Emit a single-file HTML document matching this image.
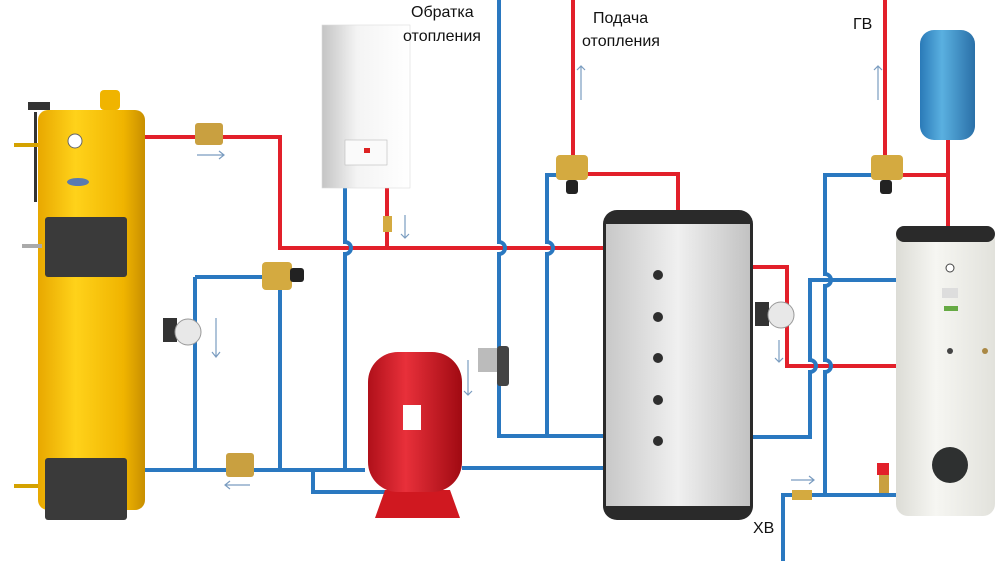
<!DOCTYPE html>
<html><head><meta charset="utf-8"><style>
html,body{margin:0;padding:0;background:#fff;}
svg{display:block;font-family:"Liberation Sans","DejaVu Sans",sans-serif;}
</style></head><body>
<svg width="1000" height="561" viewBox="0 0 1000 561" xmlns="http://www.w3.org/2000/svg">
<defs>
<linearGradient id="yel" x1="0" x2="1"><stop offset="0" stop-color="#e8a800"/><stop offset=".35" stop-color="#ffd21a"/><stop offset=".8" stop-color="#f0b400"/><stop offset="1" stop-color="#c88f00"/></linearGradient>
<linearGradient id="gry" x1="0" x2="1"><stop offset="0" stop-color="#c8c8c8"/><stop offset=".5" stop-color="#f0f0f0"/><stop offset="1" stop-color="#c2c2c2"/></linearGradient>
<linearGradient id="wht" x1="0" x2="1"><stop offset="0" stop-color="#dcdcd6"/><stop offset=".4" stop-color="#f6f6f2"/><stop offset="1" stop-color="#e2e2dc"/></linearGradient>
<linearGradient id="eb" x1="0" x2="1"><stop offset="0" stop-color="#c4c4c4"/><stop offset=".4" stop-color="#f4f4f4"/><stop offset="1" stop-color="#fff"/></linearGradient>
<linearGradient id="red" x1="0" x2="1"><stop offset="0" stop-color="#b0101a"/><stop offset=".4" stop-color="#e8303a"/><stop offset="1" stop-color="#a00a12"/></linearGradient>
<linearGradient id="blu" x1="0" x2="1"><stop offset="0" stop-color="#2a7ab8"/><stop offset=".4" stop-color="#5ab0e0"/><stop offset="1" stop-color="#2a70a8"/></linearGradient>
</defs>
<g fill="none" stroke-width="4">
<g stroke="#e2202a">
<path d="M145 137H280V248H605"/>
<path d="M387 188V248"/>
<path d="M573 0V170M588 174H678V212"/>
<path d="M752 267H787V366H897"/>
<path d="M885 0V165M900 175H948V227M948 140V175"/>
</g>
<g stroke="#2a78c0">
<path d="M145 470H365"/>
<path d="M195 277H265M195 277V470"/>
<path d="M280 288V470"/>
<path d="M313 470V492H390"/>
<path d="M345 188V242a6 6 0 0 1 0 12V470"/>
<path d="M499 0V242a6 6 0 0 1 0 12V436H605"/>
<path d="M462 468H605"/>
<path d="M558 175H547V242a6 6 0 0 1 0 12V436"/>
<path d="M752 437H810V372a6 6 0 0 0 0-12V280H897"/>
<path d="M872 175H825V274a6 6 0 0 1 0 12V360a6 6 0 0 1 0 12V495"/>
<path d="M783 561V495H900"/>
</g>
<g stroke="#7a9cc0" stroke-width="1.2">
<path d="M197 155H224M219 151L224 155L219 159"/>
<path d="M250 485H225M230 481L225 485L230 489"/>
<path d="M216 318V357M212 352L216 357L220 352"/>
<path d="M405 215V238M401 234L405 238L409 234"/>
<path d="M468 360V395M464 391L468 395L472 391"/>
<path d="M581 100V66M577 70L581 66L585 70"/>
<path d="M878 100V66M874 70L878 66L882 70"/>
<path d="M779 340V362M775 358L779 362L783 358"/>
<path d="M791 480H814M809 476L814 480L809 484"/>
</g>
</g>
<rect x="100" y="90" width="20" height="20" rx="4" fill="#f0b400"/>
<rect x="28" y="102" width="22" height="8" fill="#333"/>
<rect x="38" y="110" width="107" height="400" rx="10" fill="url(#yel)"/>
<rect x="34" y="112" width="3" height="90" fill="#333"/>
<circle cx="75" cy="141" r="7" fill="#fff" stroke="#666"/>
<ellipse cx="78" cy="182" rx="11" ry="4" fill="#5a7ab0"/>
<rect x="45" y="217" width="82" height="60" rx="3" fill="#3a3a3a"/>
<rect x="45" y="458" width="82" height="62" rx="3" fill="#3a3a3a"/>
<rect x="14" y="143" width="24" height="4" fill="#d4a200"/>
<rect x="22" y="244" width="20" height="4" fill="#aaa"/>
<rect x="14" y="484" width="24" height="4" fill="#d4a200"/>
<rect x="195" y="123" width="28" height="22" rx="3" fill="#c9a040"/>
<rect x="226" y="453" width="28" height="24" rx="3" fill="#c9a040"/>
<rect x="262" y="262" width="30" height="28" rx="4" fill="#d4aa40"/>
<rect x="290" y="268" width="14" height="14" rx="3" fill="#222"/>
<rect x="556" y="155" width="32" height="25" rx="4" fill="#d4aa40"/>
<rect x="566" y="180" width="12" height="14" rx="3" fill="#222"/>
<rect x="871" y="155" width="32" height="25" rx="4" fill="#d4aa40"/>
<rect x="880" y="180" width="12" height="14" rx="3" fill="#222"/>
<rect x="383" y="216" width="9" height="16" fill="#d4aa40"/>
<rect x="792" y="490" width="20" height="10" fill="#d4aa40"/>
<rect x="877" y="463" width="12" height="12" fill="#e2202a"/>
<rect x="879" y="475" width="10" height="18" fill="#c9a040"/>
<rect x="163" y="318" width="14" height="24" fill="#333"/>
<circle cx="188" cy="332" r="13" fill="#e8e8e8" stroke="#999"/>
<rect x="755" y="302" width="14" height="24" fill="#333"/>
<circle cx="781" cy="315" r="13" fill="#e8e8e8" stroke="#999"/>
<rect x="478" y="348" width="22" height="24" fill="#bbb"/>
<rect x="497" y="346" width="12" height="40" rx="3" fill="#444"/>
<rect x="322" y="25" width="88" height="163" fill="url(#eb)" stroke="#ddd" stroke-width=".6"/>
<rect x="345" y="140" width="42" height="25" fill="#fafafa" stroke="#bbb" stroke-width=".6"/>
<rect x="364" y="148" width="6" height="5" fill="#d22"/>
<path d="M385 490L375 518H460L450 490Z" fill="#d01820"/>
<rect x="368" y="352" width="94" height="140" rx="30" fill="url(#red)"/>
<rect x="403" y="405" width="18" height="25" fill="#fff"/>
<rect x="603" y="210" width="150" height="310" rx="14" fill="#2a2a2a"/>
<rect x="606" y="224" width="144" height="282" fill="url(#gry)"/>
<g fill="#2e2e2e"><circle cx="658" cy="275" r="5"/><circle cx="658" cy="317" r="5"/><circle cx="658" cy="358" r="5"/><circle cx="658" cy="400" r="5"/><circle cx="658" cy="441" r="5"/></g>
<rect x="920" y="30" width="55" height="110" rx="14" fill="url(#blu)"/>
<rect x="896" y="226" width="99" height="290" rx="12" fill="url(#wht)"/>
<rect x="896" y="226" width="99" height="16" rx="8" fill="#2a2a2a"/>
<circle cx="950" cy="268" r="4" fill="#fff" stroke="#444"/>
<rect x="942" y="288" width="16" height="10" fill="#ddd"/>
<rect x="944" y="306" width="14" height="5" fill="#6a4"/>
<circle cx="950" cy="351" r="3" fill="#444"/>
<circle cx="985" cy="351" r="3" fill="#a84"/>
<circle cx="950" cy="465" r="18" fill="#2e3030"/>
<g font-size="16" fill="#111">
<text x="411" y="17">Обратка</text>
<text x="403" y="41">отопления</text>
<text x="593" y="23">Подача</text>
<text x="582" y="46">отопления</text>
<text x="853" y="29">ГВ</text>
<text x="753" y="533">ХВ</text>
</g>
</svg>
</body></html>
